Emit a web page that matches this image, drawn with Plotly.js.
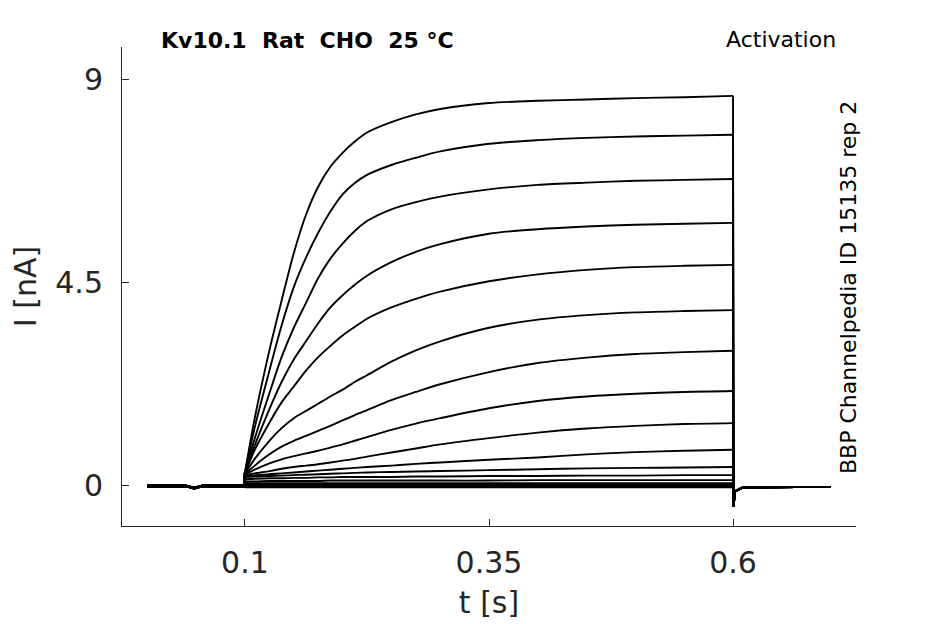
<!DOCTYPE html>
<html>
<head>
<meta charset="utf-8">
<script src="https://cdn.plot.ly/plotly-3.0.1.min.js"></script>
<style>
  body { margin:0; padding:0; background:#fff; }
  #myDiv { width:945px; height:624px; }
</style>
</head>
<body>
<div id="myDiv"></div>
<script>
//==================== Dados ====================

// tempo antes do degrau, durante o degrau e depois (s)
var tPre  = [0, 0.04, 0.048, 0.056, 0.0995];
var iPre  = [0, 0, -0.05, 0, 0];
var tStep = [0.1, 0.11, 0.125, 0.1375, 0.15, 0.1625, 0.175, 0.1875, 0.2, 0.2125,
             0.225, 0.25, 0.275, 0.3, 0.35, 0.4, 0.45, 0.5, 0.55, 0.6];
var tTail = [0.6005, 0.602, 0.61, 0.7];
var iTail = [-0.46, -0.12, -0.03, -0.02];

// corrente (nA) de cada varredura em tStep
var s01 = [0.3, 1.5, 3.0, 4.1, 5.15, 6.0, 6.62, 7.06, 7.37, 7.62, 7.82, 8.05, 8.22, 8.34, 8.47, 8.52, 8.55, 8.58, 8.6, 8.63];
var s02 = [0.3, 1.3, 2.55, 3.55, 4.4, 5.05, 5.6, 6.07, 6.45, 6.7, 6.88, 7.1, 7.26, 7.4, 7.57, 7.65, 7.7, 7.73, 7.75, 7.77];
var s03 = [0.3, 1.05, 2.05, 2.85, 3.5, 4.05, 4.6, 5.03, 5.36, 5.64, 5.86, 6.12, 6.28, 6.4, 6.56, 6.66, 6.71, 6.75, 6.77, 6.79];
var s04 = [0.3, 0.9, 1.7, 2.3, 2.8, 3.2, 3.6, 3.95, 4.22, 4.45, 4.65, 4.95, 5.18, 5.35, 5.58, 5.68, 5.74, 5.78, 5.8, 5.82];
var s05 = [0.28, 0.8, 1.4, 1.85, 2.2, 2.55, 2.85, 3.1, 3.33, 3.52, 3.7, 3.95, 4.14, 4.3, 4.53, 4.68, 4.78, 4.84, 4.87, 4.89];
var s06 = [0.27, 0.6, 1.0, 1.28, 1.5, 1.66, 1.82, 1.98, 2.13, 2.3, 2.45, 2.75, 3.0, 3.2, 3.5, 3.68, 3.78, 3.84, 3.87, 3.89];
var s07 = [0.26, 0.45, 0.7, 0.87, 1.0, 1.11, 1.22, 1.33, 1.45, 1.57, 1.68, 1.9, 2.08, 2.25, 2.52, 2.72, 2.84, 2.92, 2.96, 2.99];
var s08 = [0.25, 0.36, 0.5, 0.59, 0.66, 0.72, 0.78, 0.85, 0.92, 1.0, 1.08, 1.24, 1.38, 1.5, 1.72, 1.88, 1.98, 2.04, 2.08, 2.1];
var s09 = [0.24, 0.28, 0.33, 0.38, 0.42, 0.45, 0.48, 0.52, 0.56, 0.6, 0.65, 0.74, 0.83, 0.92, 1.06, 1.18, 1.27, 1.33, 1.37, 1.39];
var s10 = [0.22, 0.24, 0.26, 0.28, 0.3, 0.32, 0.34, 0.36, 0.38, 0.4, 0.42, 0.45, 0.49, 0.52, 0.58, 0.63, 0.7, 0.75, 0.78, 0.8];
var s11 = [0.2, 0.21, 0.22, 0.23, 0.24, 0.25, 0.26, 0.27, 0.28, 0.29, 0.3, 0.31, 0.32, 0.33, 0.35, 0.37, 0.39, 0.4, 0.41, 0.42];
var s12 = [0.15, 0.16, 0.17, 0.17, 0.18, 0.18, 0.19, 0.19, 0.2, 0.2, 0.2, 0.2, 0.21, 0.21, 0.22, 0.22, 0.23, 0.23, 0.24, 0.24];
var s13 = [0.1, 0.1, 0.11, 0.11, 0.11, 0.11, 0.11, 0.12, 0.12, 0.12, 0.12, 0.12, 0.12, 0.12, 0.12, 0.13, 0.13, 0.13, 0.13, 0.13];
var s14 = [0.06, 0.06, 0.06, 0.06, 0.06, 0.06, 0.06, 0.06, 0.06, 0.06, 0.06, 0.06, 0.06, 0.06, 0.06, 0.06, 0.06, 0.06, 0.06, 0.06];
var s15 = [0.03, 0.03, 0.03, 0.03, 0.03, 0.03, 0.03, 0.03, 0.03, 0.03, 0.03, 0.03, 0.03, 0.03, 0.03, 0.03, 0.03, 0.03, 0.03, 0.03];
var s16 = [0, 0, 0, 0, 0, 0, 0, 0, 0, 0, 0, 0, 0, 0, 0, 0, 0, 0, 0, 0];
var s17 = [-0.03, -0.03, -0.03, -0.03, -0.03, -0.03, -0.03, -0.03, -0.03, -0.03, -0.03, -0.03, -0.03, -0.03, -0.03, -0.03, -0.03, -0.03, -0.03, -0.03];

var varreduras = [s01, s02, s03, s04, s05, s06, s07, s08, s09, s10, s11, s12, s13, s14, s15, s16, s17];

var xTicks = [0.1, 0.35, 0.6];
var xTickText = ["0.1", "0.35", "0.6"];
var yTicks = [0, 4.5, 9];
var yTickText = ["0", "4.5", "9"];

var titulo = "Kv10.1\u00a0\u00a0Rat\u00a0\u00a0CHO\u00a0\u00a025\u00a0°C";
var protocolo = "Activation";
var fonte = "BBP Channelpedia ID 15135 rep 2";

//==================== Traços ====================
var data = [];
varreduras.forEach(function (s) {
  // linha de base ate o degrau
  data.push({x: tPre.concat([0.1]), y: iPre.concat([s[0]]), mode: "lines", type: "scatter",
    line: {color: "#000", width: 2.4}, hoverinfo: "skip"});
  // degrau
  data.push({x: tStep, y: s, mode: "lines", type: "scatter",
    line: {color: "#000", width: 1.9, shape: "spline", smoothing: 0.8}, hoverinfo: "skip"});
  // cauda
  data.push({x: [0.6].concat(tTail), y: [s[s.length - 1]].concat(iTail), mode: "lines", type: "scatter",
    line: {color: "#000", width: 1.9}, hoverinfo: "skip"});
});

var eixoCor = "#262626";
var layout = {
  width: 945,
  height: 624,
  margin: {l: 122, r: 89, t: 47, b: 98},
  paper_bgcolor: "#fff",
  plot_bgcolor: "#fff",
  showlegend: false,
  font: {family: "DejaVu Sans", color: eixoCor},
  xaxis: {
    range: [-0.026, 0.726],
    tickvals: xTicks, ticktext: xTickText,
    ticks: "inside", ticklen: 7, tickcolor: eixoCor, tickwidth: 1,
    showline: true, linecolor: eixoCor, linewidth: 1,
    showgrid: false, zeroline: false,
    tickfont: {size: 30, color: eixoCor},
    ticklabelstandoff: 10,
    title: {text: "t [s]", font: {size: 30, color: eixoCor}, standoff: 12}
  },
  yaxis: {
    range: [-0.885, 9.71],
    tickvals: yTicks, ticktext: yTickText,
    ticks: "inside", ticklen: 7, tickcolor: eixoCor, tickwidth: 1,
    showline: true, linecolor: eixoCor, linewidth: 1,
    showgrid: false, zeroline: false,
    tickfont: {size: 30, color: eixoCor},
    ticklabelstandoff: 12,
    title: {text: "I [nA]", font: {size: 30, color: eixoCor}, standoff: 9}
  },
  annotations: [
    {text: "<b>" + titulo + "</b>", xref: "paper", yref: "paper", x: 0.0504, y: 1.0146,
     xanchor: "left", yanchor: "middle", showarrow: false, font: {size: 22, color: "#000"}},
    {text: protocolo, xref: "paper", yref: "paper", x: 0.9755, y: 1.0167,
     xanchor: "right", yanchor: "middle", showarrow: false, font: {size: 22, color: "#000"}},
    {text: fonte, xref: "paper", yref: "paper", x: 0.9905, y: 0.4969, textangle: -90,
     xanchor: "center", yanchor: "middle", showarrow: false, font: {size: 22, color: "#000"}}
  ]
};

Plotly.newPlot("myDiv", data, layout, {staticPlot: true});
</script>
</body>
</html>
